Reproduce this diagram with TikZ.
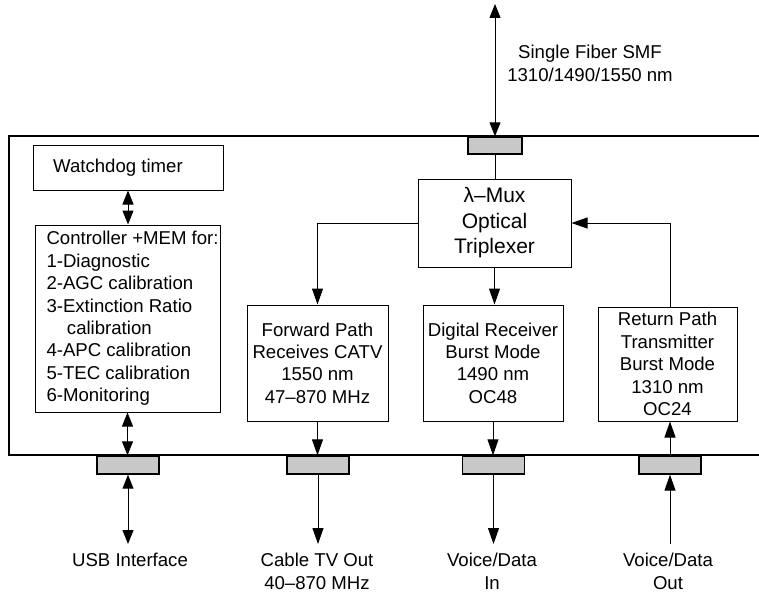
\documentclass[tikz,border=0pt]{standalone}
\usepackage{fontspec}
\setmainfont{Liberation Sans}
\usetikzlibrary{arrows.meta, positioning, calc}
\definecolor{cPort}{RGB}{200,200,200}
\tikzset{
    block/.style    ={rectangle, draw=black, line width=1pt, align=center, inner sep=0pt, font=\fontsize{18.6}{22.4}\selectfont},
    port/.style     ={rectangle, draw=black, line width=1.4pt, fill=cPort, minimum width=62pt, minimum height=18pt, inner sep=0pt},
    extlabel/.style ={align=center, inner sep=0pt, font=\fontsize{18.6}{23}\selectfont},
    sigarrow/.style ={-{Triangle[length=16pt,width=11pt]}, line width=1pt},
    bothways/.style ={{Triangle[length=14pt,width=11pt]}-{Triangle[length=14pt,width=11pt]}, line width=1pt},
}
\begin{document}
\begin{tikzpicture}[x=1pt, y=-1pt]
    \useasboundingbox (0,0) rectangle (759,594);
    \draw[line width=1.3pt] (759,136) -- (9,136) -- (9,455) -- (759,455);
    \node[block, minimum width=190pt, minimum height=45pt] (wdog) at (128,167.5) {Watchdog timer\kern20pt};
    \node[block, minimum width=185pt, minimum height=187pt] (ctrl) at (127.5,318.5) {};
    \node[block, draw=none, anchor=west, align=left] (ctrltxt) at (46,318.5) {Controller +MEM for:\\1-Diagnostic\\2-AGC calibration\\3-Extinction Ratio\\\hspace*{1.1em}calibration\\4-APC calibration\\5-TEC calibration\\6-Monitoring};
    \node[block, minimum width=153pt, minimum height=88pt, font=\fontsize{21}{25.5}\selectfont] (mux) at (494.5,223) {λ–Mux\\Optical\\Triplexer};
    \node[block, minimum width=141pt, minimum height=116pt] (fwd) at (317.5,363) {Forward Path\\Receives CATV\\1550 nm\\47–870 MHz};
    \node[block, minimum width=140pt, minimum height=116pt] (drx) at (493,363) {Digital Receiver\\Burst Mode\\1490 nm\\OC48};
    \node[block, minimum width=139pt, minimum height=114pt] (rtx) at (667.5,364) {Return Path\\Transmitter\\Burst Mode\\1310 nm\\OC24};
    \node[port, minimum width=54pt, minimum height=17pt] (pfib) at (495,145.5) {};
    \node[port] (pusb) at (128,465) {};
    \node[port] (pcatv) at (318,465) {};
    \node[port] (pdrx) at (493.5,465) {};
    \node[port] (ptx) at (670,465) {};
    \node[extlabel] (fiblbl) at (590,63.5) {Single Fiber SMF\\1310/1490/1550 nm};
    \node[extlabel] (usblbl) at (130,560) {USB Interface};
    \node[extlabel] (catvlbl) at (317,571.5) {Cable TV Out\\40–870 MHz};
    \node[extlabel] (drxlbl) at (492,571) {Voice/Data\\In};
    \node[extlabel] (txlbl) at (668,571) {Voice/Data\\Out};
    \coordinate (fibend) at (495,4);
    \coordinate (usbend) at (128,544);
    \coordinate (catvend) at (318,544);
    \coordinate (drxend) at (493.5,544);
    \coordinate (txend) at (670,544);
    \draw[bothways] (fibend) -- (pfib.north);
    \draw[line width=1pt] (pfib.south) -- (pfib.south |- mux.north);
    \draw[sigarrow] (mux.west) -| (fwd.north);
    \draw[sigarrow] (mux.south) -- (mux.south |- drx.north);
    \draw[sigarrow] (ptx |- rtx.north) |- (mux.east);
    \draw[bothways] (wdog.south) -- (wdog.south |- ctrl.north);
    \draw[bothways] (ctrl.south) -- (ctrl.south |- pusb.north);
    \draw[bothways] (pusb.south) -- (usbend);
    \draw[sigarrow] (fwd.south) -- (fwd.south |- pcatv.north);
    \draw[sigarrow] (pcatv.south) -- (catvend);
    \draw[sigarrow] (drx.south) -- (drx.south |- pdrx.north);
    \draw[sigarrow] (pdrx.south) -- (drxend);
    \draw[sigarrow] (txend) -- (ptx.south);
    \draw[sigarrow] (ptx.north) -- (ptx.north |- rtx.south);
\end{tikzpicture}
\end{document}
